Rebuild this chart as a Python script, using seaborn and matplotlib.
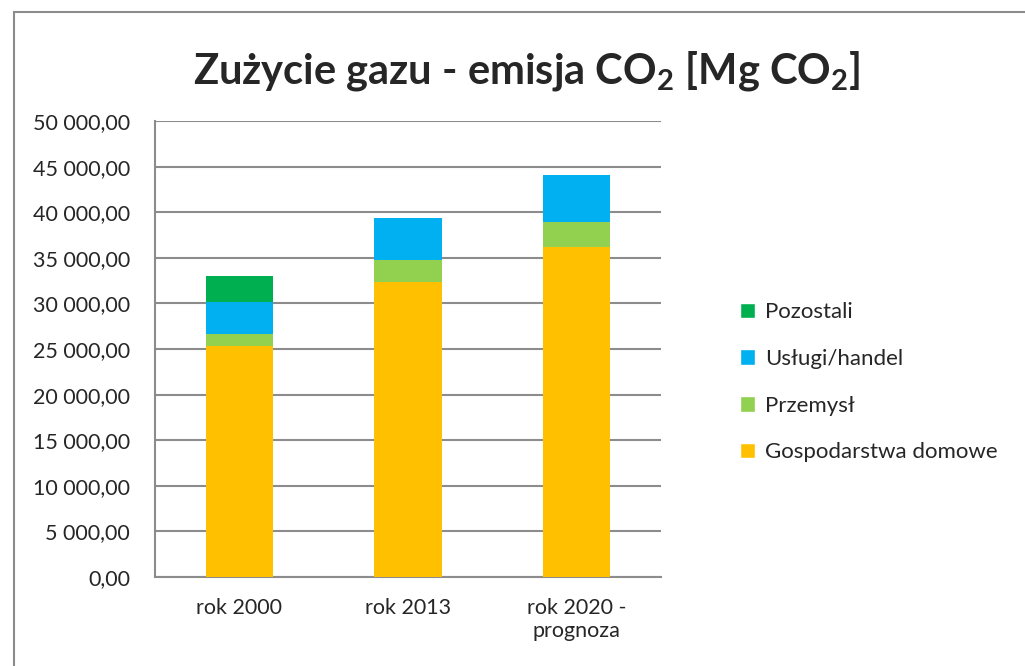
import seaborn as sns
import matplotlib.pyplot as plt
import numpy as np
from matplotlib.patches import Rectangle, Patch

# dane
lata = ['rok 2000', 'rok 2013', 'rok 2020 -\nprognoza']
gospodarstwa = [25370, 32350, 36180]
przemysl = [1230, 2380, 2720]
uslugi = [3600, 4670, 5180]
pozostali = [2850, 0, 0]

serie = ['Gospodarstwa domowe', 'Przemysł', 'Usługi/handel', 'Pozostali']
kolory = ['#FFC000', '#92D050', '#00B0F0', '#00B050']

sns.set_style('white')
plt.rcParams['font.family'] = ['Lato', 'DejaVu Sans']
plt.rcParams['mathtext.fontset'] = 'custom'
plt.rcParams['mathtext.bf'] = 'Lato:bold'
plt.rcParams['mathtext.rm'] = 'Lato'

fig = plt.figure(figsize=(10.25, 6.66), dpi=100)
ax = fig.add_axes([0.1512, 0.1336, 0.4937, 0.6847])

bottom = np.zeros(len(lata))
for nazwa, wartosci, kolor in zip(serie, [gospodarstwa, przemysl, uslugi, pozostali], kolory):
    sns.barplot(x=lata, y=wartosci, bottom=bottom, color=kolor, width=0.4,
                saturation=1, ax=ax, zorder=3, linewidth=0)
    bottom = bottom + np.array(wartosci)

ax.set_xlim(-0.5, 2.5)
ax.set_ylim(0, 50000)
yt = np.arange(0, 50001, 5000)
ax.set_yticks(yt)
ax.set_yticklabels([f'{v:,.2f}'.replace(',', ' ').replace('.', ',') for v in yt], fontsize=15.5)
ax.yaxis.grid(True, color='#8c8c8c', linewidth=1.5, zorder=0)
ax.set_axisbelow(True)

ax.set_xticks(range(len(lata)))
ax.set_xticklabels(lata, fontsize=15.5)
ax.set_xticks([-0.5, 0.5, 1.5, 2.5], minor=True)
ax.tick_params(axis='x', which='major', length=0, pad=15)
ax.tick_params(axis='x', which='minor', length=6, width=1.5, color='#8c8c8c', direction='out')
ax.tick_params(axis='y', length=6, width=1.5, color='#8c8c8c', direction='out', pad=12)
for s in ['top', 'right']:
    ax.spines[s].set_visible(False)
for s in ['left', 'bottom']:
    ax.spines[s].set_color('#8c8c8c')
    ax.spines[s].set_linewidth(1.5)
ax.set_xlabel('')
ax.set_ylabel('')

uchwyty = [Patch(facecolor=k, label=n) for n, k in zip(serie, kolory)][::-1]
fig.legend(handles=uchwyty, loc='center left', bbox_to_anchor=(0.702, 0.426),
           frameon=False, fontsize=16, handlelength=0.7, handleheight=0.7,
           handletextpad=0.45, labelspacing=1.2)

fig.text(0.514, 0.893, r'Zużycie gazu - emisja CO$_\mathbf{2}$ [Mg CO$_\mathbf{2}$]',
         ha='center', va='center', fontsize=30, fontweight='bold')

fig.patches.append(Rectangle((14 / 1025, -0.1), 1.2, 1.1 - 12 / 666,
                             transform=fig.transFigure, fill=False,
                             edgecolor='#8c8c8c', linewidth=1.5))

fig.savefig('out.png', dpi=100)
